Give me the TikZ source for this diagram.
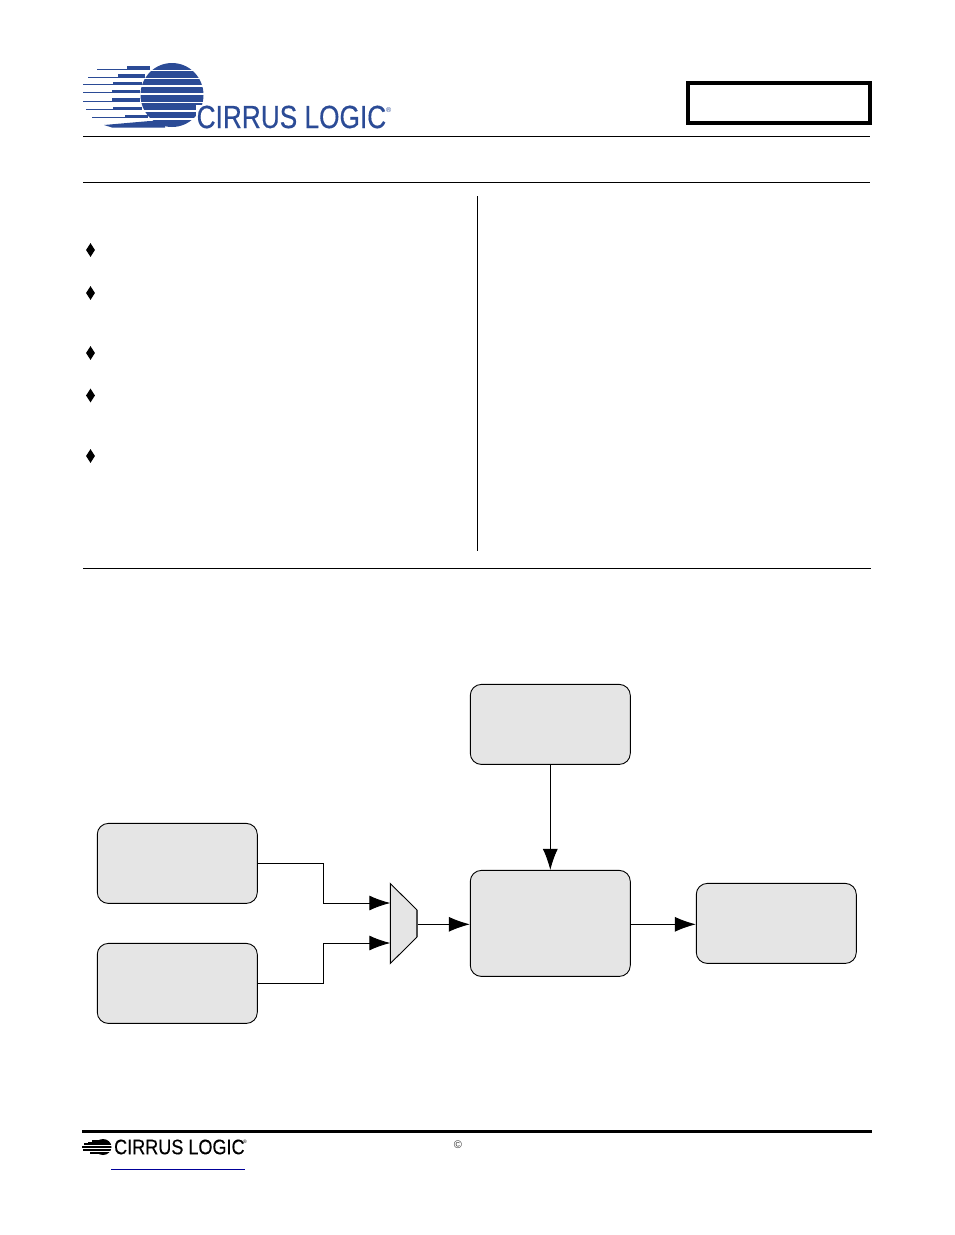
\documentclass[tikz,border=0pt]{standalone}
\usepackage{fontspec}
\setmainfont{Liberation Sans}
\usetikzlibrary{arrows.meta,shapes.geometric}
\definecolor{logoblue}{HTML}{2B4B96}
\definecolor{boxgray}{gray}{0.90}
\tikzset{
  blockbox/.style={draw=black,fill=boxgray,rounded corners=11pt,line width=0.9pt,minimum width=160pt,minimum height=80pt,inner sep=0pt},
  flowline/.style={draw=black,line width=0.9pt,-{Latex[length=21pt,width=15pt]}},
  rulethin/.style={draw=black,line width=1pt},
  bullet/.style={diamond,fill=black,inner sep=0pt,minimum width=9pt,minimum height=14pt},
  logotext/.style={text=logoblue,inner sep=0pt,anchor=west},
}
\begin{document}
\begin{tikzpicture}[x=1pt,y=-1pt]
\useasboundingbox (0,0) rectangle (954,1235);
\fill[white] (0,0) rectangle (954,1235);
% header logo
\fill[logoblue] (172,95) ellipse [x radius=31.5,y radius=32];
\foreach \yg/\xa/\xb/\xc in {70.5/97/127/150, 78.5/88/118/145, 86/83/113/142, 94/83/112/140, 102.5/83/112/140, 111/86/113/142, 119/92/125/148}{
  \fill[logoblue] (\xa,\yg-2) rectangle (\xc,\yg-0.6);
  \fill[logoblue] (\xb,\yg-4.2) rectangle (\xc,\yg-0.6);
}
\fill[logoblue] (104,125) -- (150,121) -- (165,121) -- (165,127.5) -- (112,127.5) -- cycle;
\foreach \yg/\xs in {70.5/140,78.5/135,86/130,94/128,102.5/128,111/130,119/135}{
  \draw[white,line width=1.2] (\xs,\yg) -- (206,\yg);
}
\fill[white] (196,105) rectangle (210,130);
\node[logotext,font=\fontsize{32}{32}\selectfont\addfontfeature{FakeBold=0.4},xscale=0.82] (headerlogo) at (196.5,117) {CIRRUS LOGIC};
\node[logotext,font=\fontsize{7}{7}\selectfont] (headerreg) at (386,110) {®};
% header box and rules
\draw[black,line width=3.6pt] (688,83) rectangle (870,123);
\draw[rulethin] (83,136.5) -- (870,136.5);
\draw[rulethin] (83,182.5) -- (870,182.5);
\draw[rulethin] (477.5,196) -- (477.5,550.5);
\draw[rulethin] (83,568.5) -- (871,568.5);
% bullets
\foreach \yb [count=\i] in {250,293,353,395.5,456}{
  \node[bullet] (b\i) at (90.5,\yb) {};
}
% blocks
\node[blockbox] (top) at (550.3,724.4) {};
\node[blockbox,minimum height=106pt] (mid) at (550.3,923.4) {};
\node[blockbox] (out) at (776.3,923.4) {};
\node[blockbox] (lone) at (177.3,863.4) {};
\node[blockbox] (ltwo) at (177.3,983.4) {};
% mux
\draw[black,line width=0.9pt,fill=boxgray] (390.3,883.5) -- (417,910) -- (417,937) -- (390.3,963.5) -- cycle;
\draw[black!70,line width=1.4pt] (417,910) -- (417,937);
\coordinate (muxa) at (390.3,903);
\coordinate (muxb) at (390.3,943);
\coordinate (muxo) at (417.5,924.3);
% connectors
\draw[flowline] (lone.east) -- ++(66,0) |- (muxa);
\draw[flowline] (ltwo.east) -- ++(66,0) |- (muxb);
\draw[flowline] (muxo) -- (mid.west |- muxo);
\draw[flowline] (top.south) -- (mid.north);
\draw[flowline] (mid.east |- muxo) -- (out.west |- muxo);
% footer
\draw[black,line width=3pt] (82,1131.5) -- (872,1131.5);
\begin{scope}
  \clip (82,1139) rectangle (112,1155);
  \fill[black] (103,1147) ellipse [x radius=8.5,y radius=8];
  \foreach \yy/\xx in {1141/92,1142.5/88,1144/84,1145.5/82,1147/82,1148.5/82,1150/83,1151.5/85,1153/90}{
    \draw[black,line width=1.2] (\xx,\yy) -- (104,\yy);
  }
  \foreach \yy in {1145,1148,1151}{
    \draw[white,line width=0.3] (82,\yy) -- (112,\yy);
  }
\end{scope}
\node[logotext,text=black,font=\fontsize{21}{21}\selectfont\addfontfeature{FakeBold=0.4},xscale=0.86] (footerlogo) at (114,1147) {CIRRUS LOGIC};
\node[logotext,text=black,font=\fontsize{5}{5}\selectfont] (footerreg) at (243,1142) {®};
\draw[black!40!blue,line width=1pt] (111,1169.5) -- (245,1169.5);
\node[inner sep=0pt,font=\fontsize{11}{11}\selectfont,text=black!80] (copyright) at (458,1145) {©};
\end{tikzpicture}
\end{document}
